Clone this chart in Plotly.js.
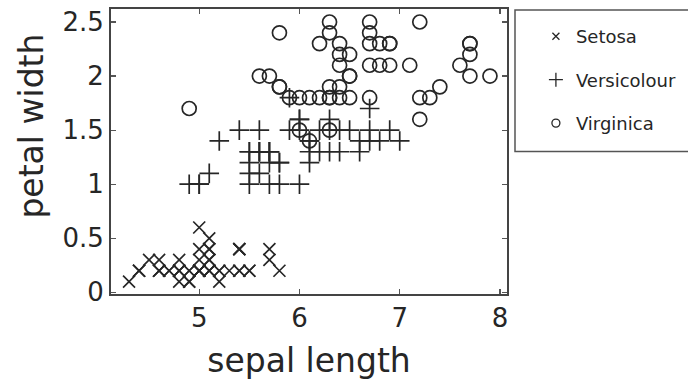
<!DOCTYPE html>
<html>
<head>
<meta charset="utf-8">
<script src="https://cdn.plot.ly/plotly-3.0.1.min.js"></script>
<style>html,body{margin:0;padding:0;background:#fff;}#chart{width:688px;height:382px;}</style>
</head>
<body>
<div id="chart"></div>
<script>
// Iris data: sepal length (x) vs petal width (y)
const setosaSepalLength = [5.1,4.9,4.7,4.6,5.0,5.4,4.6,5.0,4.4,4.9,5.4,4.8,4.8,4.3,5.8,5.7,5.4,5.1,5.7,5.1,5.4,5.1,4.6,5.1,4.8,5.0,5.0,5.2,5.2,4.7,4.8,5.4,5.2,5.5,4.9,5.0,5.5,4.9,4.4,5.1,5.0,4.5,4.4,5.0,5.1,4.8,5.1,4.6,5.3,5.0];
const setosaPetalWidth  = [0.2,0.2,0.2,0.2,0.2,0.4,0.3,0.2,0.2,0.1,0.2,0.2,0.1,0.1,0.2,0.4,0.4,0.3,0.3,0.3,0.2,0.4,0.2,0.5,0.2,0.2,0.4,0.2,0.2,0.2,0.2,0.4,0.1,0.2,0.2,0.2,0.2,0.1,0.2,0.2,0.3,0.3,0.2,0.6,0.4,0.3,0.2,0.2,0.2,0.2];
const versicolourSepalLength = [7.0,6.4,6.9,5.5,6.5,5.7,6.3,4.9,6.6,5.2,5.0,5.9,6.0,6.1,5.6,6.7,5.6,5.8,6.2,5.6,5.9,6.1,6.3,6.1,6.4,6.6,6.8,6.7,6.0,5.7,5.5,5.5,5.8,6.0,5.4,6.0,6.7,6.3,5.6,5.5,5.5,6.1,5.8,5.0,5.6,5.7,5.7,6.2,5.1,5.7];
const versicolourPetalWidth  = [1.4,1.5,1.5,1.3,1.5,1.3,1.6,1.0,1.3,1.4,1.0,1.5,1.0,1.4,1.3,1.4,1.5,1.0,1.5,1.1,1.8,1.3,1.5,1.2,1.3,1.4,1.4,1.7,1.5,1.0,1.1,1.0,1.2,1.6,1.5,1.6,1.5,1.3,1.3,1.3,1.2,1.4,1.2,1.0,1.3,1.2,1.3,1.3,1.1,1.3];
const virginicaSepalLength = [6.3,5.8,7.1,6.3,6.5,7.6,4.9,7.3,6.7,7.2,6.5,6.4,6.8,5.7,5.8,6.4,6.5,7.7,7.7,6.0,6.9,5.6,7.7,6.3,6.7,7.2,6.2,6.1,6.4,7.2,7.4,7.9,6.4,6.3,6.1,7.7,6.3,6.4,6.0,6.9,6.7,6.9,5.8,6.8,6.7,6.7,6.3,6.5,6.2,5.9];
const virginicaPetalWidth  = [2.5,1.9,2.1,1.8,2.2,2.1,1.7,1.8,1.8,2.5,2.0,1.9,2.1,2.0,2.4,2.3,1.8,2.2,2.3,1.5,2.3,2.0,2.0,1.8,2.1,1.8,1.8,1.8,2.1,1.6,1.9,2.0,2.2,1.5,1.4,2.3,2.4,1.8,1.8,2.1,2.4,2.3,1.9,2.3,2.5,2.3,1.9,2.0,2.3,1.8];
const seriesNames = ['Setosa','Versicolour','Virginica'];
const xTickVals = [5,6,7,8];
const yTickVals = [0,0.5,1,1.5,2,2.5];
const xTitle = 'sepal length';
const yTitle = 'petal width';

const ink = '#262626';
const font = 'DejaVu Sans, sans-serif';

const mainTraces = [
  {x: setosaSepalLength, y: setosaPetalWidth, sym: 'x-thin-open', size: 12},
  {x: versicolourSepalLength, y: versicolourPetalWidth, sym: 'cross-thin-open', size: 14},
  {x: virginicaSepalLength, y: virginicaPetalWidth, sym: 'circle-open', size: 14}
].map((t, i) => ({
  type: 'scatter', mode: 'markers', x: t.x, y: t.y, name: seriesNames[i],
  showlegend: false, cliponaxis: true,
  marker: {symbol: t.sym, size: t.size, color: ink, line: {color: ink, width: 1.7}}
}));

const legendSyms = ['x-thin-open','cross-thin-open','circle-open'];
const legendSizes = [7, 10, 8];
const legendTraces = seriesNames.map((n, i) => ({
  type: 'scatter', mode: 'markers', x: [null], y: [null], name: n,
  legendgroup: 'g' + i, showlegend: true, hoverinfo: 'skip',
  marker: {symbol: legendSyms[i], size: legendSizes[i], color: ink, line: {color: ink, width: 1.3}}
}));

const layout = {
  width: 688, height: 382,
  margin: {l: 111, r: 181, t: 9, b: 88, autoexpand: false},
  paper_bgcolor: '#fff', plot_bgcolor: '#fff',
  font: {family: font, color: ink},
  xaxis: {
    range: [4.12, 8.07], tickvals: xTickVals, ticks: 'inside', ticklen: 5, tickwidth: 1.2, tickcolor: '#555',
    showline: true, linecolor: '#444', linewidth: 2, mirror: 'ticks', showgrid: false, zeroline: false,
    tickfont: {family: font, size: 26, color: ink},
    title: {text: xTitle, font: {family: font, size: 33, color: ink}, standoff: 17}
  },
  yaxis: {
    range: [-0.015, 2.62], tickvals: yTickVals, ticks: 'inside', ticklen: 5, tickwidth: 1.2, tickcolor: '#555',
    showline: true, linecolor: '#444', linewidth: 2, mirror: 'ticks', showgrid: false, zeroline: false,
    tickfont: {family: font, size: 26, color: ink}
  },
  annotations: [{
    text: yTitle, textangle: -90, xref: 'paper', yref: 'paper',
    x: (32 - 111) / 396, y: (295 - 127) / 286, xanchor: 'center', yanchor: 'middle',
    showarrow: false, font: {family: font, size: 33, color: ink}
  }],
  legend: {
    x: 1.073, xanchor: 'left', y: 0.968, yanchor: 'top',
    bgcolor: 'rgba(0,0,0,0)', borderwidth: 0,
    font: {family: font, size: 18, color: ink},
    traceorder: 'grouped', tracegroupgap: 17
  },
  shapes: [{
    type: 'rect', xref: 'paper', yref: 'paper', x0: 1.0202, x1: 1.48, y0: 0.5, y1: 0.9965,
    line: {color: '#555', width: 1.5}, fillcolor: 'rgba(0,0,0,0)', layer: 'above'
  }],
  showlegend: true
};

Plotly.newPlot('chart', mainTraces.concat(legendTraces), layout, {staticPlot: true, displayModeBar: false});
</script>
</body>
</html>
